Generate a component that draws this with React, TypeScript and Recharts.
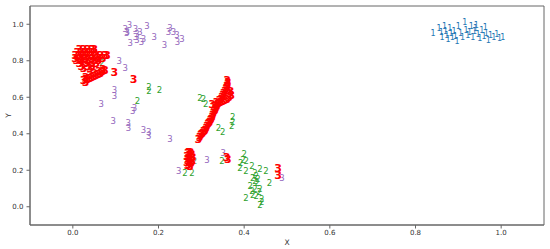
import React from 'react';
import { ScatterChart, Scatter, XAxis, YAxis, ReferenceArea } from 'recharts';

// digit markers as [x, y]
const ones: number[][] = [
  [0.841, 0.947], [0.855, 0.975], [0.86, 0.955], [0.862, 0.93], [0.868, 0.99], [0.87, 0.96],
  [0.873, 0.94], [0.876, 0.915], [0.88, 0.975], [0.883, 0.95], [0.886, 0.925], [0.89, 0.96],
  [0.893, 0.935], [0.897, 0.905], [0.9, 0.985], [0.905, 0.95], [0.91, 0.925], [0.915, 1.01],
  [0.918, 0.965], [0.922, 0.94], [0.926, 0.955], [0.93, 0.985], [0.934, 0.93], [0.938, 0.96],
  [0.942, 0.995], [0.946, 0.945], [0.95, 0.92], [0.955, 0.965], [0.96, 0.935], [0.965, 0.95],
  [0.97, 0.91], [0.975, 0.94], [0.983, 0.925], [0.99, 0.945], [0.996, 0.92], [1.004, 0.93],
  [0.94, 0.975], [0.963, 0.98],
];

const twos: number[][] = [
  [0.068, 0.787], [0.178, 0.656], [0.178, 0.636], [0.202, 0.641], [0.151, 0.577],
  [0.297, 0.596], [0.305, 0.59], [0.31, 0.565], [0.34, 0.43], [0.35, 0.41],
  [0.373, 0.49], [0.373, 0.465], [0.371, 0.44], [0.284, 0.25], [0.262, 0.186],
  [0.278, 0.186], [0.348, 0.25], [0.4, 0.291], [0.397, 0.255], [0.392, 0.24],
  [0.405, 0.25], [0.39, 0.215], [0.418, 0.226], [0.404, 0.195], [0.437, 0.206],
  [0.451, 0.197], [0.425, 0.186], [0.42, 0.16], [0.428, 0.17], [0.459, 0.131],
  [0.414, 0.113], [0.43, 0.13], [0.425, 0.095], [0.437, 0.097], [0.404, 0.05],
  [0.42, 0.067], [0.428, 0.06], [0.441, 0.044], [0.441, 0.024], [0.437, 0.012],
  [0.432, 0.15], [0.425, 0.14], [0.418, 0.085], [0.435, 0.08],
];

const threes: number[][] = [
  [0.122, 0.973], [0.132, 0.996], [0.146, 0.974], [0.173, 0.99], [0.126, 0.95], [0.146, 0.93],
  [0.157, 0.956], [0.134, 0.9], [0.15, 0.914], [0.16, 0.905], [0.165, 0.92], [0.19, 0.932],
  [0.227, 0.978], [0.223, 0.96], [0.235, 0.96], [0.243, 0.94], [0.255, 0.918], [0.244, 0.905],
  [0.214, 0.887], [0.15, 0.945], [0.127, 0.96],
  [0.108, 0.796], [0.122, 0.763], [0.097, 0.641], [0.097, 0.605], [0.066, 0.563],
  [0.144, 0.541], [0.14, 0.522], [0.094, 0.468], [0.129, 0.459], [0.13, 0.432],
  [0.165, 0.422], [0.177, 0.407], [0.177, 0.386], [0.227, 0.37], [0.247, 0.198],
  [0.313, 0.258], [0.351, 0.292], [0.488, 0.158],
];

const boldThrees: number[][] = [
  // upper left block
  [0.015, 0.86], [0.025, 0.86], [0.035, 0.86], [0.045, 0.86], [0.05, 0.86],
  [0.01, 0.845], [0.02, 0.845], [0.03, 0.845], [0.04, 0.845], [0.05, 0.845],
  [0.005, 0.83], [0.015, 0.83], [0.025, 0.83], [0.035, 0.83], [0.045, 0.83], [0.055, 0.83],
  [0.065, 0.83], [0.075, 0.83], [0.08, 0.83],
  [0.005, 0.815], [0.02, 0.815], [0.03, 0.815], [0.045, 0.815], [0.06, 0.815], [0.07, 0.815],
  [0.008, 0.8], [0.02, 0.8], [0.035, 0.8], [0.05, 0.8], [0.06, 0.8],
  [0.015, 0.785], [0.03, 0.785], [0.045, 0.785], [0.055, 0.785],
  [0.02, 0.77], [0.035, 0.77], [0.045, 0.77], [0.025, 0.755], [0.04, 0.755],
  [0.025, 0.69], [0.03, 0.695], [0.035, 0.7], [0.04, 0.705], [0.045, 0.71], [0.05, 0.715],
  [0.055, 0.72], [0.06, 0.725], [0.065, 0.73], [0.07, 0.74], [0.075, 0.745],
  [0.03, 0.71], [0.04, 0.72], [0.05, 0.73], [0.06, 0.74], [0.07, 0.75], [0.03, 0.68],
  [0.097, 0.735], [0.142, 0.696],
  // diagonal band
  [0.293, 0.37], [0.296, 0.38], [0.298, 0.39], [0.3, 0.395], [0.303, 0.4], [0.305, 0.41],
  [0.307, 0.415], [0.309, 0.42], [0.311, 0.43], [0.313, 0.44], [0.315, 0.45], [0.317, 0.455],
  [0.319, 0.46], [0.321, 0.47], [0.323, 0.48], [0.325, 0.49], [0.326, 0.5], [0.328, 0.51],
  [0.33, 0.52], [0.332, 0.53], [0.334, 0.54], [0.336, 0.55], [0.338, 0.56], [0.34, 0.565],
  [0.345, 0.57], [0.35, 0.575], [0.355, 0.58], [0.36, 0.59], [0.365, 0.6], [0.37, 0.61],
  [0.342, 0.58], [0.346, 0.59], [0.348, 0.6], [0.35, 0.61], [0.352, 0.62], [0.355, 0.63],
  [0.357, 0.64], [0.358, 0.65], [0.36, 0.66], [0.361, 0.67], [0.362, 0.68], [0.36, 0.69],
  [0.368, 0.63], [0.366, 0.62], [0.33, 0.55], [0.325, 0.56], [0.335, 0.57],
  // lower blob
  [0.27, 0.3], [0.275, 0.295], [0.268, 0.29], [0.278, 0.285], [0.272, 0.28], [0.266, 0.275],
  [0.28, 0.27], [0.27, 0.265], [0.275, 0.26], [0.268, 0.255], [0.279, 0.25], [0.272, 0.245],
  [0.266, 0.24], [0.276, 0.235], [0.27, 0.23], [0.274, 0.22], [0.268, 0.225],
  [0.359, 0.268], [0.362, 0.26], [0.479, 0.21], [0.479, 0.17],
];

const ticks = [0, 0.2, 0.4, 0.6, 0.8, 1.0];

const toPoints = (rows: number[][]) => rows.map(([x, y]) => ({ x, y }));

const glyph = (label: string, color: string, size: number, weight: string) => (props: any) => (
  <text
    x={props.cx}
    y={props.cy}
    textAnchor="middle"
    dominantBaseline="central"
    fill={color}
    fontSize={size}
    fontWeight={weight}
    fontFamily="DejaVu Sans"
  >
    {label}
  </text>
);

const tickStyle = { fontSize: 7, fill: '#333', fontFamily: 'DejaVu Sans' };

export default function App() {
  return (
    <div style={{ position: 'absolute', left: 0, top: 0, background: '#fff' }}>
      <ScatterChart width={550} height={249} margin={{ top: 6, right: 6, bottom: 0, left: 0 }}>
        <XAxis
          type="number"
          dataKey="x"
          domain={[-0.1, 1.1]}
          ticks={ticks}
          allowDataOverflow
          tickFormatter={(v: number) => v.toFixed(1)}
          tick={tickStyle}
          tickSize={3.5}
          tickMargin={2}
          height={24}
          stroke="#666"
          label={{
            content: (p: any) => (
              <text x={p.viewBox.x + p.viewBox.width / 2} y={245} textAnchor="middle" fontSize={7.5} fill="#333" fontFamily="DejaVu Sans">
                X
              </text>
            ),
          }}
        />
        <YAxis
          type="number"
          dataKey="y"
          domain={[-0.1, 1.1]}
          ticks={ticks}
          allowDataOverflow
          tickFormatter={(v: number) => v.toFixed(1)}
          tick={tickStyle}
          tickSize={3.5}
          tickMargin={3}
          width={30}
          stroke="#666"
          label={{
            content: (p: any) => (
              <text
                x={8}
                y={p.viewBox.y + p.viewBox.height / 2}
                textAnchor="middle"
                dominantBaseline="central"
                transform={`rotate(-90 8 ${p.viewBox.y + p.viewBox.height / 2})`}
                fontSize={7.5}
                fill="#333"
                fontFamily="DejaVu Sans"
              >
                Y
              </text>
            ),
          }}
        />
        <ReferenceArea x1={-0.1} x2={1.1} y1={-0.1} y2={1.1} fill="none" stroke="#666" strokeWidth={1} />
        <Scatter data={toPoints(ones)} shape={glyph('1', '#1f77b4', 8, 'normal')} isAnimationActive={false} />
        <Scatter data={toPoints(twos)} shape={glyph('2', '#2ca02c', 8.5, 'normal')} isAnimationActive={false} />
        <Scatter data={toPoints(threes)} shape={glyph('3', '#9467bd', 8.5, 'normal')} isAnimationActive={false} />
        <Scatter data={toPoints(boldThrees)} shape={glyph('3', '#ff0000', 11, 'bold')} isAnimationActive={false} />
      </ScatterChart>
    </div>
  );
}
